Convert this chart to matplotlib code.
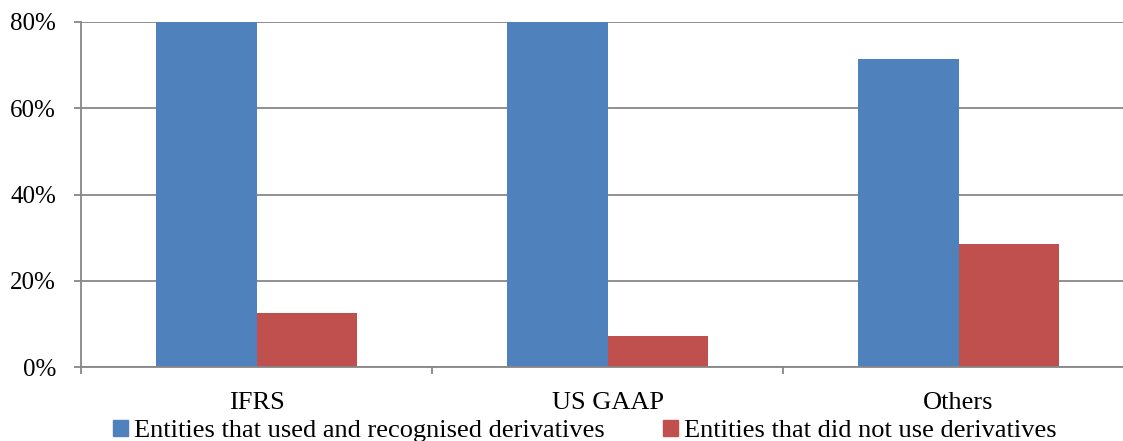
import matplotlib

matplotlib.use("Agg")
import matplotlib.pyplot as plt
from matplotlib.patches import Rectangle
import numpy as np

categories = ["IFRS", "US GAAP", "Others"]
used_derivatives = [87.5, 92.9, 71.4]
no_derivatives = [12.5, 7.1, 28.6]
series_labels = [
    "Entities that used and recognised derivatives",
    "Entities that did not use derivatives",
]

BLUE = "#4F81BD"
RED = "#C0504D"
GRID = "#878787"

plt.rcParams["font.family"] = ["Liberation Serif", "DejaVu Serif"]

fig = plt.figure(figsize=(11.23, 4.41), dpi=100)
# plot area runs slightly past the right edge, as in the reference
ax = fig.add_axes([81 / 1123, 74 / 441, 1053 / 1123, 345 / 441])

x = np.arange(len(categories))
w = 1 / 3.5
ax.bar(x - w / 2, used_derivatives, w, color=BLUE, zorder=2)
ax.bar(x + w / 2, no_derivatives, w, color=RED, zorder=2)

ax.set_xlim(-0.5, 2.5)
ax.set_ylim(0, 80)
ax.set_yticks([0, 20, 40, 60, 80])
ax.set_yticklabels(["0%", "20%", "40%", "60%", "80%"])
ax.yaxis.grid(True, color=GRID, linewidth=1.3, zorder=0)
ax.set_axisbelow(True)

# category boundary ticks + centred labels
ax.set_xticks([-0.5, 0.5, 1.5, 2.5])
ax.set_xticklabels([])
ax.set_xticks(x, minor=True)
ax.set_xticklabels(categories, minor=True)
ax.tick_params(axis="x", which="major", length=5, width=1.3, color=GRID)
ax.tick_params(axis="x", which="minor", length=0, pad=18, labelsize=19)
ax.tick_params(axis="y", length=5, width=1.3, color=GRID, pad=13, labelsize=18)

for side in ["top", "right"]:
    ax.spines[side].set_visible(False)
for side in ["left", "bottom"]:
    ax.spines[side].set_color(GRID)
    ax.spines[side].set_linewidth(1.3)

handles = [Rectangle((0, 0), 1, 1, color=BLUE), Rectangle((0, 0), 1, 1, color=RED)]
fig.legend(
    handles,
    series_labels,
    loc="lower center",
    bbox_to_anchor=(585 / 1123, -0.045),
    ncol=2,
    frameon=False,
    fontsize=19,
    handlelength=0.55,
    handleheight=0.55,
    handletextpad=0.25,
    columnspacing=2.2,
    borderpad=0.2,
)

fig.savefig("out.png", dpi=100)
